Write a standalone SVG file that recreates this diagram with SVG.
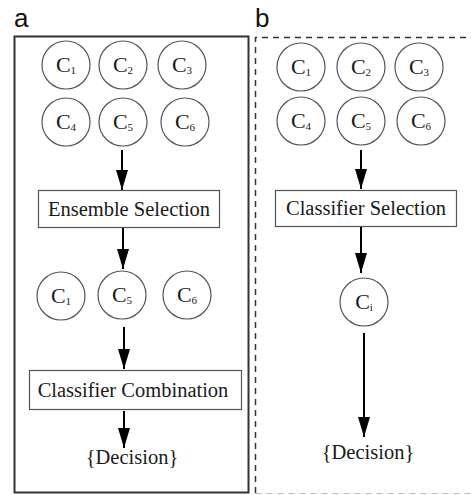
<svg xmlns="http://www.w3.org/2000/svg" width="471" height="495" viewBox="0 0 471 495">
<style>
.lbl{font-family:"Liberation Sans",Arial,sans-serif;font-size:26px;fill:#111}
.c{fill:#fff;stroke:#555;stroke-width:1.2}
.t{font-family:"Liberation Serif","Times New Roman",serif;fill:#1a1a1a;text-anchor:middle}
.ct{font-size:22px}
.sub{font-size:11px}
.box{fill:#fff;stroke:#555;stroke-width:1.2}
.bt{font-size:20.5px}
.ar{stroke:#000;stroke-width:2;fill:none}
</style>
<defs>
<marker id="ahd" markerUnits="userSpaceOnUse" markerWidth="20" markerHeight="12" refX="20" refY="6" orient="auto" viewBox="0 0 20 12">
<path d="M0,0 L20,6 L0,12 Z" fill="#000"/>
</marker>
</defs>
<rect width="471" height="495" fill="#fff"/>
<text class="lbl" x="14" y="27">a</text>
<text class="lbl" x="255" y="27">b</text>
<g id="panel-a-frame"><rect x="14.5" y="36.5" width="234" height="456" fill="none" stroke="#333" stroke-width="2"/></g>
<g id="panel-b-frame"><path d="M255.5,493 V37.5 H471" fill="none" stroke="#333" stroke-width="1.5" stroke-dasharray="6,5"/><path d="M255.5,493.5 H471" fill="none" stroke="#bbb" stroke-width="1" stroke-dasharray="6,5"/></g>

<g id="a-c1"><circle class="c" cx="66" cy="65" r="24"/><text class="t ct" x="66" y="72">C<tspan class="sub" dy="2">1</tspan></text></g>
<g id="a-c2"><circle class="c" cx="123" cy="65" r="24"/><text class="t ct" x="123" y="72">C<tspan class="sub" dy="2">2</tspan></text></g>
<g id="a-c3"><circle class="c" cx="182" cy="65" r="24"/><text class="t ct" x="182" y="72">C<tspan class="sub" dy="2">3</tspan></text></g>
<g id="a-c4"><circle class="c" cx="66" cy="122" r="24"/><text class="t ct" x="66" y="129">C<tspan class="sub" dy="2">4</tspan></text></g>
<g id="a-c5"><circle class="c" cx="123" cy="122" r="24"/><text class="t ct" x="123" y="129">C<tspan class="sub" dy="2">5</tspan></text></g>
<g id="a-c6"><circle class="c" cx="185" cy="122" r="24"/><text class="t ct" x="185" y="129">C<tspan class="sub" dy="2">6</tspan></text></g>
<g id="a-ensemble"><rect class="box" x="38.5" y="190.5" width="181" height="37"/><text class="t bt" x="129" y="216">Ensemble Selection</text></g>
<g id="a-r1"><circle class="c" cx="61" cy="296" r="24"/><text class="t ct" x="61" y="303">C<tspan class="sub" dy="2">1</tspan></text></g>
<g id="a-r5"><circle class="c" cx="122" cy="295" r="24"/><text class="t ct" x="122" y="302">C<tspan class="sub" dy="2">5</tspan></text></g>
<g id="a-r6"><circle class="c" cx="187" cy="295" r="24"/><text class="t ct" x="187" y="302">C<tspan class="sub" dy="2">6</tspan></text></g>
<g id="a-combination"><rect class="box" x="29.5" y="370.5" width="212" height="39"/><text class="t bt" x="133" y="397">Classifier Combination</text></g>
<g id="a-decision"><text class="t bt" x="132" y="464">{Decision}</text></g>

<g id="b-c1"><circle class="c" cx="301" cy="67" r="24"/><text class="t ct" x="301" y="74">C<tspan class="sub" dy="2">1</tspan></text></g>
<g id="b-c2"><circle class="c" cx="361" cy="67" r="24"/><text class="t ct" x="361" y="74">C<tspan class="sub" dy="2">2</tspan></text></g>
<g id="b-c3"><circle class="c" cx="419" cy="67" r="24"/><text class="t ct" x="419" y="74">C<tspan class="sub" dy="2">3</tspan></text></g>
<g id="b-c4"><circle class="c" cx="301" cy="121" r="24"/><text class="t ct" x="301" y="128">C<tspan class="sub" dy="2">4</tspan></text></g>
<g id="b-c5"><circle class="c" cx="361" cy="121" r="24"/><text class="t ct" x="361" y="128">C<tspan class="sub" dy="2">5</tspan></text></g>
<g id="b-c6"><circle class="c" cx="421" cy="121" r="24"/><text class="t ct" x="421" y="128">C<tspan class="sub" dy="2">6</tspan></text></g>
<g id="b-selection"><rect class="box" x="275.5" y="190.5" width="181" height="36"/><text class="t bt" x="366" y="215">Classifier Selection</text></g>
<g id="b-ci"><circle class="c" cx="364" cy="302" r="24"/><text class="t ct" x="364" y="309">C<tspan class="sub" dy="2">i</tspan></text></g>
<g id="b-decision"><text class="t bt" x="368" y="459">{Decision}</text></g>

<g id="connectors">
<line class="ar" x1="122" y1="150" x2="122" y2="190" marker-end="url(#ahd)"/>
<line class="ar" x1="123" y1="228" x2="123" y2="269" marker-end="url(#ahd)"/>
<line class="ar" x1="124" y1="327" x2="124" y2="369" marker-end="url(#ahd)"/>
<line class="ar" x1="124" y1="411" x2="124" y2="448" marker-end="url(#ahd)"/>
<line class="ar" x1="361" y1="150" x2="361" y2="189" marker-end="url(#ahd)"/>
<line class="ar" x1="361" y1="227" x2="361" y2="273" marker-end="url(#ahd)"/>
<line class="ar" x1="364" y1="333" x2="364" y2="437" marker-end="url(#ahd)"/>
</g>
</svg>
